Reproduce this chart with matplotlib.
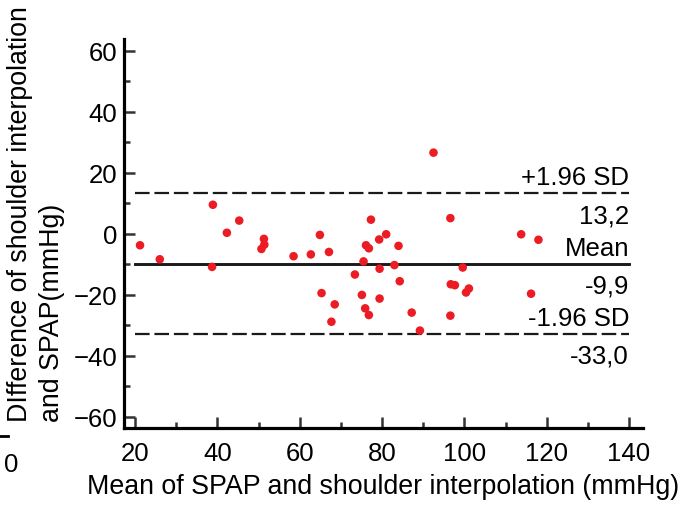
import matplotlib
matplotlib.use("Agg")
import matplotlib.pyplot as plt
from matplotlib.lines import Line2D
from matplotlib.ticker import MultipleLocator

plt.rcParams['font.family'] = ['Liberation Sans', 'DejaVu Sans']
plt.rcParams['lines.scale_dashes'] = False

# Bland-Altman data: mean of the two methods vs. their difference (mmHg)
mean_vals = [21.2, 26.0, 38.9, 38.7, 42.3, 45.3, 51.3, 51.4, 50.7, 58.5,
             62.7, 64.9, 67.1, 65.3, 68.5, 67.7, 73.4, 75.5, 76.1, 76.8,
             77.3, 75.1, 75.9, 76.8, 79.3, 81.0, 79.4, 79.4, 83.0, 84.0,
             84.3, 87.2, 89.2, 92.5, 96.6, 96.7, 97.7, 96.6, 99.6, 100.4,
             101.1, 113.8, 116.2, 118.0]
diff_vals = [-3.8, -8.4, 9.5, -10.9, 0.3, 4.3, -1.7, -3.6, -5.0, -7.4,
             -6.8, -0.4, -6.0, -19.5, -23.2, -28.9, -13.4, -9.1, -3.8, -4.8,
             4.6, -20.1, -24.5, -26.7, -1.9, -0.2, -11.5, -21.3, -10.3, -4.0,
             -15.6, -25.9, -31.8, 26.6, 5.1, -16.6, -16.9, -26.9, -11.1, -19.3,
             -18.0, -0.2, -19.7, -2.0]

mean_diff = -9.9
upper_loa = 13.2
lower_loa = -33.0
line_span = [20, 140]

x_ticks = [20, 40, 60, 80, 100, 120, 140]
y_ticks = [-60, -40, -20, 0, 20, 40, 60]

fig = plt.figure(figsize=(6.88, 5.06), dpi=100)
ax = fig.add_axes([0.1802, 0.152, 0.7544, 0.769])

ax.scatter(mean_vals, diff_vals, s=38, color='#ec1c24', edgecolors='none', zorder=3)

ax.plot(line_span, [mean_diff, mean_diff], color='#1a1a1a', lw=2.1, zorder=2)
for v in (upper_loa, lower_loa):
    ax.plot(line_span, [v, v], color='#1a1a1a', lw=1.6, dashes=(10.5, 3.5), zorder=2)

fs = 18.5
labels = [(upper_loa, '+1.96 SD', f'{upper_loa:.1f}'.replace('.', ',')),
          (mean_diff, 'Mean', f'{mean_diff:.1f}'.replace('.', ',')),
          (lower_loa, '-1.96 SD', f'{lower_loa:.1f}'.replace('.', ','))]
for v, above, below in labels:
    ax.annotate(above, (line_span[1], v), xytext=(0, 3), textcoords='offset points',
                ha='right', va='bottom', fontsize=fs)
    ax.annotate(below, (line_span[1], v), xytext=(0, -7), textcoords='offset points',
                ha='right', va='top', fontsize=fs)

ax.set_xlim(17.3, 143.4)
ax.set_ylim(-63.8, 63.9)
ax.set_xticks(x_ticks)
ax.set_yticks(y_ticks)
ax.xaxis.set_minor_locator(MultipleLocator(10))
ax.yaxis.set_minor_locator(MultipleLocator(10))

for side in ('top', 'right'):
    ax.spines[side].set_visible(False)
for side in ('left', 'bottom'):
    ax.spines[side].set_linewidth(2.3)
    ax.spines[side].set_color('black')

ax.tick_params(which='major', direction='in', length=8, width=1.8, color='#333333',
               labelsize=fs, pad=5)
ax.tick_params(which='minor', direction='in', length=4, width=1.8, color='#333333')
ax.tick_params(axis='x', which='major', pad=9)

ax.set_xlabel('Mean of SPAP and shoulder interpolation (mmHg)', fontsize=19.3, labelpad=6)

fig.text(0.052, 0.166, 'DIfference of shoulder interpolation\nand SPAP(mmHg)',
         rotation=90, ha='center', va='bottom', multialignment='left',
         fontsize=19.3, linespacing=1.3)

fig.text(0.016, 0.081, '0', ha='center', va='center', fontsize=fs)
fig.add_artist(Line2D([0.0, 0.012], [0.136, 0.136], transform=fig.transFigure,
                      color='black', lw=2))

fig.savefig('out.png', dpi=100)
